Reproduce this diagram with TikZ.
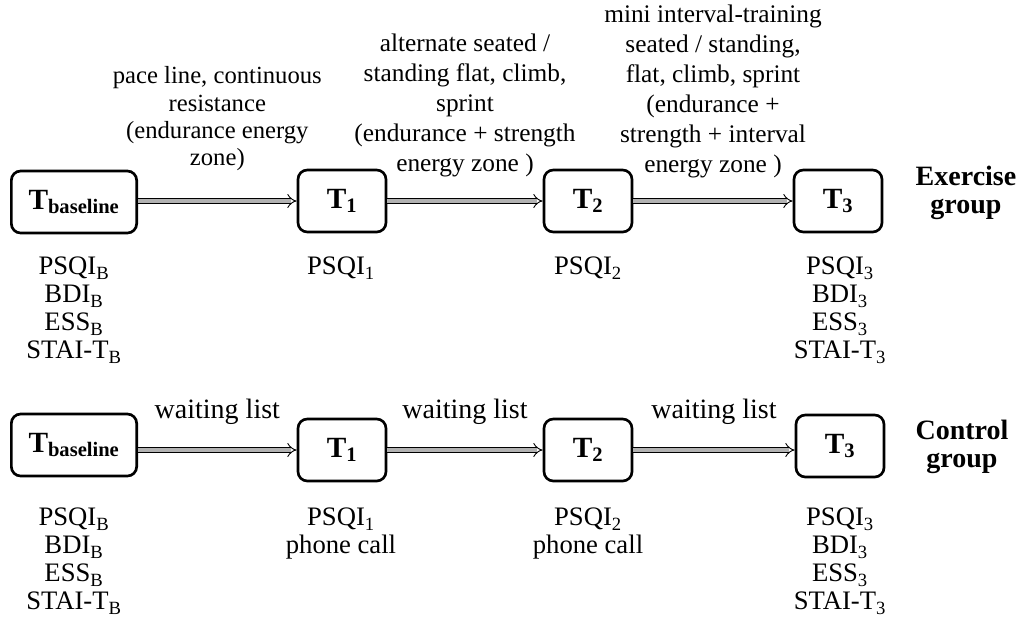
\documentclass[tikz,border=0pt]{standalone}
\usepackage{fontspec}
\setmainfont{Liberation Serif}
\usetikzlibrary{arrows.meta}
\begin{document}
\begin{tikzpicture}[x=0.75pt, y=-0.75pt]
% Study design on the pixel grid of the figure (y runs downwards)
\providecommand{\stageLineWidth}{2pt}
\providecommand{\stageRadius}{7pt}
\providecommand{\flowFillColor}{black!30}
\tikzset{
  stage/.style={draw, line width=\stageLineWidth, rounded corners=\stageRadius,
    minimum width=66pt, minimum height=46.5pt, inner sep=0pt,
    font=\fontsize{22}{24}\selectfont\bfseries},
  stagewide/.style={stage, minimum width=94pt},
  flow/.style={draw=black, line width=0.7pt, double=\flowFillColor,
    double distance=3pt, -{Implies}},
  measures/.style={anchor=north, align=center, inner sep=0pt,
    font=\fontsize{20}{21}\selectfont},
  session/.style={align=center, inner sep=0pt, font=\fontsize{18.5}{20.5}\selectfont},
  sessionwide/.style={session, font=\fontsize{19}{22.5}\selectfont},
  waiting/.style={session, font=\fontsize{21}{22}\selectfont},
  group/.style={align=center, inner sep=0pt, font=\fontsize{21}{21}\selectfont\bfseries}
}
\useasboundingbox (0,0) rectangle (1021,640);
% Exercise group
\node[stagewide] (exB) at (74,202) {T\textsubscript{baseline}};
\node[stage] (ex1) at (342,201) {T\textsubscript{1}};
\node[stage] (ex2) at (588,201) {T\textsubscript{2}};
\node[stage] (ex3) at (838,201) {T\textsubscript{3}};
\node[group] (exG) at (966,193) {Exercise\\group};
\draw[flow] (exB.east |- ex1.west) -- node[session, midway, above=22pt] (exS1)
  {pace line, continuous\\resistance\\(endurance energy\\zone)} (ex1);
\draw[flow] (ex1) -- node[sessionwide, midway, above=18pt] (exS2)
  {alternate seated /\\standing flat, climb,\\sprint\\(endurance + strength\\energy zone )} (ex2);
\draw[flow] (ex2) -- node[sessionwide, midway, above=17pt] (exS3)
  {mini interval-training\\seated / standing,\\flat, climb, sprint\\(endurance +\\strength + interval\\energy zone )} (ex3);
\node[measures] (exMB) at (74,257) {PSQI\textsubscript{B}\\BDI\textsubscript{B}\\ESS\textsubscript{B}\\STAI-T\textsubscript{B}};
\node[measures] (exM1) at (341,257) {PSQI\textsubscript{1}};
\node[measures] (exM2) at (588,257) {PSQI\textsubscript{2}};
\node[measures] (exM3) at (840,257) {PSQI\textsubscript{3}\\BDI\textsubscript{3}\\ESS\textsubscript{3}\\STAI-T\textsubscript{3}};
% Control group
\node[stagewide] (coB) at (74,445) {T\textsubscript{baseline}};
\node[stage] (co1) at (342,450) {T\textsubscript{1}};
\node[stage] (co2) at (588,450) {T\textsubscript{2}};
\node[stage] (co3) at (840,446) {T\textsubscript{3}};
\node[group] (coG) at (962,447) {Control\\group};
\draw[flow] (coB.east |- co1.west) -- node[waiting, midway, above=19pt] (coS1) {waiting list} (co1.west);
\draw[flow] (co1) -- node[waiting, midway, above=19pt] (coS2) {waiting list} (co2);
\draw[flow] (co2.east) -- node[waiting, midway, above=19pt] (coS3) {waiting list} (co3.west |- co2.east);
\node[measures] (coMB) at (74,508) {PSQI\textsubscript{B}\\BDI\textsubscript{B}\\ESS\textsubscript{B}\\STAI-T\textsubscript{B}};
\node[measures] (coM1) at (341,508) {PSQI\textsubscript{1}\\phone call};
\node[measures] (coM2) at (588,508) {PSQI\textsubscript{2}\\phone call};
\node[measures] (coM3) at (840,508) {PSQI\textsubscript{3}\\BDI\textsubscript{3}\\ESS\textsubscript{3}\\STAI-T\textsubscript{3}};
\end{tikzpicture}
\end{document}
